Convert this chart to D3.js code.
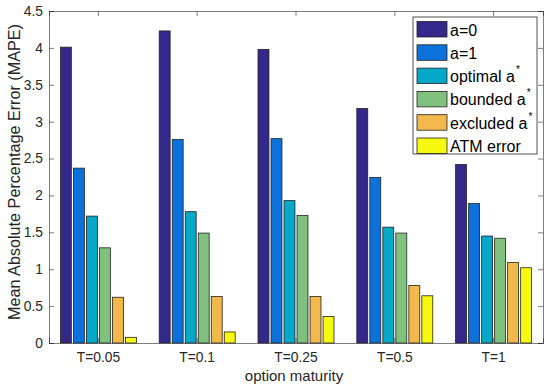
<!DOCTYPE html>
<html>
<head>
<meta charset="utf-8">
<script src="https://cdn.jsdelivr.net/npm/d3@7"></script>
<style>
  body { margin:0; background:#fff; }
  text { font-family: "Liberation Sans", Arial, sans-serif; }
</style>
</head>
<body>
<svg id="chart" width="550" height="387"></svg>
<script>
// categories and series
const maturities = ["T=0.05", "T=0.1", "T=0.25", "T=0.5", "T=1"];
const seriesNames = ["a=0", "a=1", "optimal a", "bounded a", "excluded a", "ATM error"];
const starred = [false, false, true, true, true, false];
const seriesColors = ["#34298a", "#0b72dc", "#05a8c6", "#80c17f", "#f2b84b", "#f8f80f"];
const a0 = [4.01, 4.23, 3.98, 3.18, 2.42];
const a1 = [2.37, 2.76, 2.77, 2.245, 1.89];
const optimalA = [1.72, 1.78, 1.93, 1.57, 1.45];
const boundedA = [1.29, 1.49, 1.73, 1.49, 1.42];
const excludedA = [0.62, 0.63, 0.63, 0.78, 1.09];
const atmError = [0.077, 0.15, 0.36, 0.64, 1.02];
const yTicks = [0, 0.5, 1, 1.5, 2, 2.5, 3, 3.5, 4, 4.5];

const series = [a0, a1, optimalA, boundedA, excludedA, atmError];

const PLOT = {LEFT:49, RIGHT:543, TOP:11, BOTTOM:343};
const svg = d3.select("#chart");

let xScale = d3.scaleBand()
               .domain(maturities)
               .range([PLOT.LEFT, PLOT.RIGHT])
               .paddingInner(0).paddingOuter(0);
let yScale = d3.scaleLinear()
               .domain([0, 4.5])
               .range([PLOT.BOTTOM, PLOT.TOP]);

// inner scale for the grouped bars (MATLAB: group width 0.8 of category)
const groupW = xScale.bandwidth() * 0.79;
let xInner = d3.scaleBand()
               .domain(d3.range(seriesNames.length))
               .range([-groupW/2, groupW/2])
               .paddingInner(0.16).paddingOuter(0.08);

// plot background
svg.append("rect")
   .attr("x", PLOT.LEFT).attr("y", PLOT.TOP)
   .attr("width", PLOT.RIGHT-PLOT.LEFT).attr("height", PLOT.BOTTOM-PLOT.TOP)
   .attr("fill", "#fff");

// bars
let groups = svg.append("g").selectAll("g")
   .data(maturities)
   .join("g")
   .attr("transform", d => "translate(" + (xScale(d) + xScale.bandwidth()/2) + ",0)");

groups.selectAll("rect")
   .data((d, i) => series.map((s, k) => ({k: k, v: s[i]})))
   .join("rect")
   .attr("x", d => xInner(d.k))
   .attr("width", xInner.bandwidth())
   .attr("y", d => yScale(d.v))
   .attr("height", d => yScale(0) - yScale(d.v))
   .attr("fill", d => seriesColors[d.k])
   .attr("stroke", "#222")
   .attr("stroke-width", 0.8);

// axes (MATLAB style, inward ticks, box)
const tickColor = "#262626";
let yaxis = d3.axisLeft(yScale).tickValues(yTicks).tickSize(-5).tickPadding(6)
              .tickFormat(d => String(d));
let yRight = d3.axisRight(yScale).tickValues(yTicks).tickSize(-5).tickFormat("");
let xaxis = d3.axisBottom(xScale).tickSize(-5).tickPadding(9);
let xTop = d3.axisTop(xScale).tickSize(-5).tickFormat("");

function styleAxis(g) {
  g.select(".domain").attr("stroke", tickColor).attr("stroke-width", 0.6);
  g.selectAll(".tick line").attr("stroke", tickColor).attr("stroke-width", 0.6);
  g.selectAll(".tick text").attr("fill", tickColor)
   .style("font-family", "'Liberation Sans', Arial, sans-serif").style("font-size", "13.8px");
}

svg.append("g").attr("transform", "translate(" + PLOT.LEFT + ",0)").call(yaxis).call(styleAxis);
svg.append("g").attr("transform", "translate(" + PLOT.RIGHT + ",0)").call(yRight).call(styleAxis);
svg.append("g").attr("transform", "translate(0," + PLOT.BOTTOM + ")").call(xaxis).call(styleAxis);
svg.append("g").attr("transform", "translate(0," + PLOT.TOP + ")").call(xTop).call(styleAxis);

// axis labels
svg.append("text")
   .attr("x", (PLOT.LEFT+PLOT.RIGHT)/2 - 2).attr("y", 381)
   .attr("text-anchor", "middle")
   .attr("fill", tickColor).style("font-size", "15px")
   .text("option maturity");

svg.append("text")
   .attr("transform", "translate(20,172) rotate(-90)")
   .attr("text-anchor", "middle")
   .attr("fill", tickColor).style("font-size", "16.2px")
   .text("Mean Absolute Percentage Error (MAPE)");

// legend
const LEG = {X:413, Y:17, W:124, H:137, ROW:23.3};
let legend = svg.append("g");
legend.append("rect")
   .attr("x", LEG.X).attr("y", LEG.Y).attr("width", LEG.W).attr("height", LEG.H)
   .attr("fill", "#fff").attr("stroke", tickColor).attr("stroke-width", 0.8);

let items = legend.selectAll("g.item")
   .data(seriesNames)
   .join("g")
   .attr("class", "item")
   .attr("transform", (d, i) => "translate(" + (LEG.X+4) + "," + (LEG.Y + 4.5 + i*LEG.ROW) + ")");

items.append("rect")
   .attr("width", 30).attr("height", 15.5)
   .attr("fill", (d, i) => seriesColors[i])
   .attr("stroke", "#222").attr("stroke-width", 0.8);

let labels = items.append("text")
   .attr("x", 33).attr("y", 14)
   .attr("fill", "#000").style("font-size", "16px");
labels.append("tspan").text(d => d);
labels.filter((d, i) => starred[i])
   .append("tspan").attr("dy", -9).attr("dx", 1).style("font-size", "10px").text("*");
</script>
</body>
</html>
